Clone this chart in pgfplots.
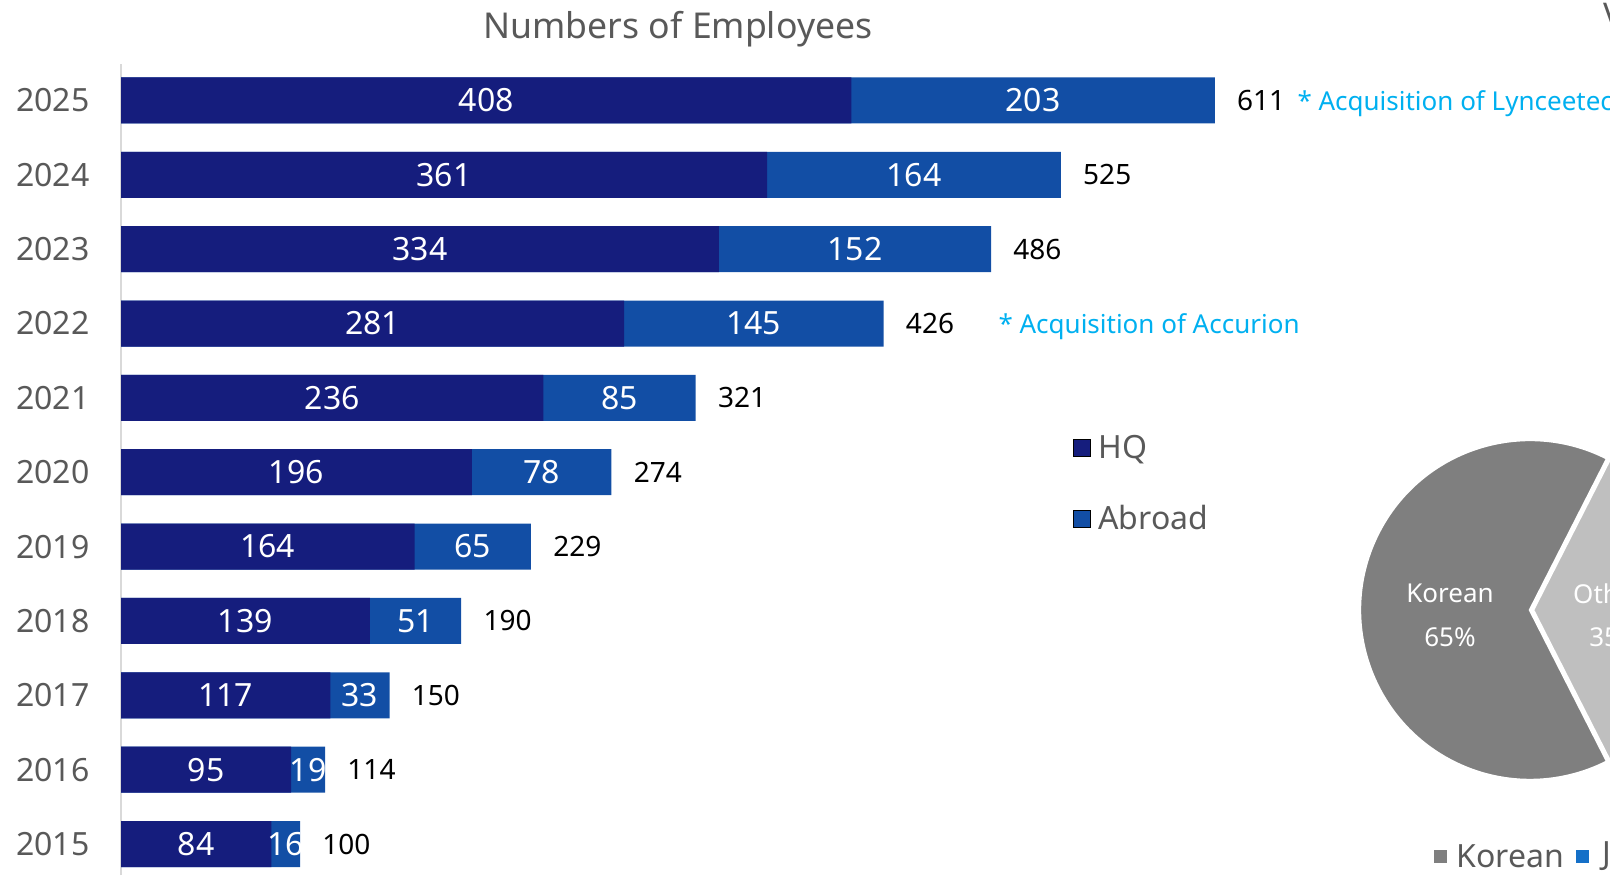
\documentclass[border=0pt]{standalone}
\usepackage{pgfplots}
\pgfplotsset{compat=1.18}
\usepackage{pgfplotstable}
\usepackage{fontspec}
\setmainfont{Noto Sans}
\definecolor{hqc}{RGB}{21,29,125}
\definecolor{abc}{RGB}{18,78,165}
\definecolor{txtgray}{RGB}{89,89,89}
\definecolor{anncyan}{RGB}{0,176,240}
\definecolor{kor}{RGB}{127,127,127}
\definecolor{oth}{RGB}{191,191,191}
\definecolor{jblue}{RGB}{21,112,200}

\pgfplotstableread{
year hq abroad total
2015 84 16 100
2016 95 19 114
2017 117 33 150
2018 139 51 190
2019 164 65 229
2020 196 78 274
2021 236 85 321
2022 281 145 426
2023 334 152 486
2024 361 164 525
2025 408 203 611
}\emp

\begin{document}
\begin{tikzpicture}[x=1pt,y=1pt]
\useasboundingbox (0,0) rectangle (805,437.5);
\clip (0,0) rectangle (805,437.5);
\begin{axis}[
  at={(60.5pt,0pt)}, anchor=south west,
  scale only axis, width=744.5pt, height=405.5pt,
  xmin=0, xmax=831.8, ymin=2014.583, ymax=2025.49,
  axis x line=none, axis y line*=left,
  y axis line style={draw=black!15, line width=1pt, -},
  ytick={2015,2016,2017,2018,2019,2020,2021,2022,2023,2024,2025},
  major tick length=0pt,
  /pgf/number format/1000 sep={},
  /pgf/number format/assume math mode=true,
  yticklabel style={font=\fontsize{16}{18}\selectfont, text=txtgray, inner sep=0pt, xshift=-15.5pt},
  clip=false,
  legend style={at={(axis description cs:0.6394,0.548)}, anchor=north west, draw=none, fill=none,
    font=\fontsize{16}{18}\selectfont, text=txtgray, row sep=18pt, inner sep=0pt,
    nodes={inner xsep=3.5pt}},
  legend cell align=left,
  legend image code/.code={\fill[#1] (0pt,-4.25pt) rectangle (8.5pt,4.25pt);},
]
\addplot[xbar, bar width=23pt, bar shift=0pt, fill=abc, draw=none, forget plot] table[x=total, y=year]{\emp};
\addplot[xbar, bar width=23pt, bar shift=0pt, fill=hqc, draw=none, forget plot] table[x=hq, y=year]{\emp};
% inside labels
\addplot[only marks, mark=none, forget plot, point meta=explicit symbolic,
  nodes near coords={\pgfplotspointmeta}, nodes near coords align={center},
  every node near coord/.append style={anchor=center, text=white, font=\fontsize{16}{18}\selectfont}]
  table[x expr=\thisrow{hq}/2, y=year, meta=hq]{\emp};
\addplot[only marks, mark=none, forget plot, point meta=explicit symbolic,
  nodes near coords={\pgfplotspointmeta}, nodes near coords align={center},
  every node near coord/.append style={anchor=center, text=white, font=\fontsize{16}{18}\selectfont}]
  table[x expr=\thisrow{hq}+\thisrow{abroad}/2, y=year, meta=abroad]{\emp};
% totals
\addplot[only marks, mark=none, forget plot, point meta=explicit symbolic,
  nodes near coords={\pgfplotspointmeta}, nodes near coords align={west},
  every node near coord/.append style={anchor=west, text=black, xshift=11pt, inner sep=0pt, font=\fontsize{14}{16}\selectfont}]
  table[x=total, y=year, meta=total]{\emp};
\addlegendimage{fill=hqc}
\addlegendentry{HQ}
\addlegendimage{fill=abc}
\addlegendentry{Abroad}
\node[anchor=west, text=anncyan, font=\fontsize{13}{15}\selectfont, inner sep=0pt, yshift=-1.5pt] at (axis cs:657,2025) {* Acquisition of Lynceetec};
\node[anchor=west, text=anncyan, font=\fontsize{13}{15}\selectfont, inner sep=0pt, yshift=-1.5pt] at (axis cs:490,2022) {* Acquisition of Accurion};
\end{axis}
\node[text=txtgray, font=\fontsize{17.8}{20}\selectfont] at (339,423) {Numbers of Employees};
\node[anchor=west, text=txtgray, font=\fontsize{17}{20}\selectfont, inner sep=0pt] at (801.5,430) {V};
% pie (Korean 65%, Others 35%)
\pgfmathsetmacro{\ka}{65*3.6/2}
\pgfmathsetmacro{\kb}{180-\ka}
\fill[kor, draw=white, line width=1.2pt] (765,132.5) -- ++(\kb:85) arc[start angle=\kb, end angle=360-\kb, radius=85] -- cycle;
\fill[oth, draw=white, line width=1.2pt] (766.5,132.5) -- ++(-\kb:85) arc[start angle=-\kb, end angle=\kb, radius=85] -- cycle;
\node[text=white, font=\fontsize{13}{15}\selectfont] at (725,140.75) {Korean};
\node[text=white, font=\fontsize{13}{15}\selectfont] at (725,119) {65\%};
\node[text=white, font=\fontsize{13}{15}\selectfont] at (807.5,140.75) {Others};
\node[text=white, font=\fontsize{13}{15}\selectfont] at (807.5,119) {35\%};
% pie legend
\fill[kor] (717,6) rectangle (723.5,12.5);
\node[anchor=west, text=txtgray, font=\fontsize{16}{18}\selectfont, inner sep=0pt] at (728,9.25) {Korean};
\fill[jblue] (788,6) rectangle (794.5,12.5);
\node[anchor=west, text=txtgray, font=\fontsize{16}{18}\selectfont, inner sep=0pt] at (801,9.25) {Japanese};
\end{tikzpicture}
\end{document}
